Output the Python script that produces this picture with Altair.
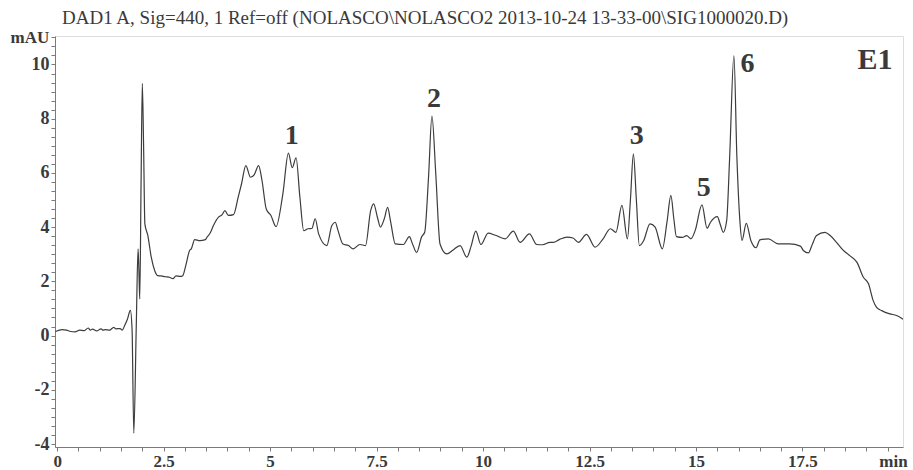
import altair as alt
import pandas as pd

# Retention time (min) and detector signal (mAU)
time_min = [
    -0.04, 0.12, 0.22, 0.32, 0.42, 0.53, 0.63, 0.73, 0.78, 0.83, 0.93, 1.03, 1.08, 1.13,
    1.23, 1.33, 1.38, 1.48, 1.53, 1.58, 1.65, 1.72, 1.76, 1.80, 1.86, 1.90, 1.92, 1.94,
    1.97, 2.00, 2.03, 2.06, 2.13, 2.21, 2.29, 2.36, 2.44, 2.54, 2.64, 2.72, 2.79, 2.89,
    2.95, 3.02, 3.11, 3.15, 3.23, 3.35, 3.48, 3.52, 3.60, 3.67, 3.79, 3.87, 3.94, 4.02,
    4.14, 4.25, 4.33, 4.43, 4.54, 4.63, 4.73, 4.81, 4.91, 5.02, 5.14, 5.30, 5.43, 5.52,
    5.61, 5.70, 5.79, 5.89, 5.98, 6.06, 6.14, 6.33, 6.45, 6.53, 6.59, 6.71, 6.84, 6.95,
    7.11, 7.24, 7.36, 7.43, 7.53, 7.59, 7.68, 7.76, 7.83, 7.94, 8.13, 8.27, 8.34, 8.44,
    8.56, 8.63, 8.72, 8.80, 8.89, 8.99, 9.15, 9.29, 9.46, 9.62, 9.72, 9.83, 9.95, 10.12,
    10.29, 10.52, 10.71, 10.87, 11.09, 11.26, 11.40, 11.57, 11.65, 11.80, 11.97, 12.11,
    12.24, 12.43, 12.63, 12.81, 12.99, 13.12, 13.26, 13.39, 13.46, 13.53, 13.60, 13.67,
    13.77, 13.92, 14.04, 14.21, 14.32, 14.41, 14.48, 14.54, 14.68, 14.78, 14.88, 14.98,
    15.14, 15.26, 15.34, 15.50, 15.57, 15.64, 15.72, 15.79, 15.89, 15.96, 16.03, 16.08,
    16.18, 16.29, 16.41, 16.50, 16.70, 16.93, 17.20, 17.45, 17.52, 17.64, 17.72, 17.83,
    18.03, 18.15, 18.30, 18.46, 18.61, 18.78, 18.93, 19.05, 19.16, 19.24, 19.36, 19.55,
    19.71, 19.86,
]
signal_mau = [
    0.15, 0.22, 0.20, 0.15, 0.14, 0.20, 0.18, 0.28, 0.20, 0.24, 0.17, 0.25, 0.20, 0.22,
    0.20, 0.30, 0.25, 0.26, 0.20, 0.35, 0.60, 0.93, 0.20, -3.60, 0.50, 3.20, 2.40, 1.35,
    5.50, 9.30, 7.00, 4.12, 3.69, 2.89, 2.40, 2.21, 2.20, 2.17, 2.15, 2.10, 2.20, 2.18,
    2.21, 2.58, 3.14, 3.20, 3.54, 3.50, 3.54, 3.63, 3.80, 4.06, 4.37, 4.45, 4.61, 4.43,
    4.46, 5.10, 5.60, 6.27, 5.84, 5.94, 6.27, 5.72, 4.67, 4.43, 4.02, 5.23, 6.73, 6.19,
    6.56, 5.10, 3.87, 3.94, 3.95, 4.31, 3.75, 3.32, 4.06, 4.18, 3.90, 3.38, 3.32, 3.20,
    3.36, 3.32, 4.60, 4.86, 4.30, 4.00, 4.30, 4.73, 4.20, 3.38, 3.36, 3.65, 3.40, 3.07,
    3.65, 3.81, 5.84, 8.10, 5.97, 3.38, 3.01, 3.15, 3.32, 2.89, 3.30, 3.85, 3.36, 3.78,
    3.70, 3.57, 3.85, 3.44, 3.75, 3.36, 3.35, 3.44, 3.44, 3.55, 3.63, 3.60,
    3.44, 3.73, 3.26, 3.55, 3.94, 3.81, 4.80, 3.57, 5.00, 6.70, 5.00, 3.32,
    3.50, 4.12, 4.00, 3.20, 4.20, 5.17, 4.30, 3.65, 3.62, 3.69, 3.57, 3.87,
    4.82, 3.96, 4.18, 4.39, 4.10, 3.81, 4.24, 6.58, 10.33, 6.58, 4.24, 3.51,
    4.14, 3.50, 3.24, 3.53, 3.57, 3.38, 3.38, 3.30, 3.14, 3.05, 3.32, 3.69,
    3.81, 3.69, 3.44, 3.14, 2.95, 2.70, 2.15, 1.91, 1.29, 1.04, 0.92, 0.80,
    0.74, 0.60,
]

peak_labels = ["1", "2", "3", "5", "6"]
peak_t = [5.51, 8.85, 13.61, 15.18, 16.21]
peak_v = [7.37, 8.72, 7.36, 5.46, 10.02]

panel_label = ["E1"]
panel_t = [19.2]
panel_v = [10.16]

title_text = "DAD1 A, Sig=440, 1 Ref=off (NOLASCO\\NOLASCO2 2013-10-24 13-33-00\\SIG1000020.D)"

x_ticks = [i * 0.5 for i in range(0, 40)]
y_ticks = [round(-4 + i / 3, 4) for i in range(0, 46)]

df = pd.DataFrame({"t": time_min, "v": signal_mau})
peaks = pd.DataFrame({"label": peak_labels, "t": peak_t, "v": peak_v})
panel = pd.DataFrame({"label": panel_label, "t": panel_t, "v": panel_v})

FONT = "Liberation Serif"
INK = "#3a3a3a"
GRAY = "#7a7a7a"

xscale = alt.Scale(domain=[-0.05, 19.86], nice=False, zero=False)
yscale = alt.Scale(domain=[-4.11, 11.05], nice=False, zero=False)


def x_axis():
    return alt.Axis(
        values=x_ticks,
        labelExpr="(datum.value % 2.5 == 0) ? '' + datum.value : ''",
        labelOverlap=False,
        labelBound=False,
        labelFlush=False,
        tickSize=4,
        tickWidth=1,
        grid=False,
        domainColor=GRAY,
        tickColor=GRAY,
        labelFont=FONT,
        labelFontWeight="bold",
        labelFontSize=17,
        labelColor=INK,
        labelBaseline="alphabetic",
        labelPadding=15,
        title="min",
        titleFont=FONT,
        titleFontWeight="bold",
        titleFontSize=17,
        titleColor=INK,
        titleX=838,
        titleY=19,
        titleAlign="center",
        titleBaseline="alphabetic",
    )


def y_axis():
    return alt.Axis(
        values=y_ticks,
        labelExpr="(abs(datum.value - round(datum.value / 2) * 2) < 0.01) ? '' + round(datum.value) : ''",
        labelOverlap=False,
        labelBound=False,
        labelFlush=False,
        tickSize=4,
        tickWidth=1,
        grid=False,
        domainColor=GRAY,
        tickColor=GRAY,
        labelFont=FONT,
        labelFontWeight="bold",
        labelFontSize=18,
        labelColor=INK,
        labelPadding=2,
        title="mAU",
        titleFont=FONT,
        titleFontWeight="bold",
        titleFontSize=17,
        titleColor=INK,
        titleAngle=0,
        titleX=-45,
        titleY=6,
        titleAlign="left",
        titleBaseline="alphabetic",
    )


line = alt.Chart(df).mark_line(
    color="#3c3c3c", strokeWidth=1.2, interpolate="monotone", clip=True
).encode(
    x=alt.X("t:Q", scale=xscale, axis=x_axis()),
    y=alt.Y("v:Q", scale=yscale, axis=y_axis()),
)

peak_text = alt.Chart(peaks).mark_text(
    font=FONT, fontWeight="bold", fontSize=28, color=INK, align="center", baseline="middle"
).encode(
    x=alt.X("t:Q", scale=xscale, axis=x_axis()),
    y=alt.Y("v:Q", scale=yscale, axis=y_axis()),
    text="label:N",
)

panel_text = alt.Chart(panel).mark_text(
    font=FONT, fontWeight="bold", fontSize=30, color=INK, align="center", baseline="middle"
).encode(
    x=alt.X("t:Q", scale=xscale, axis=x_axis()),
    y=alt.Y("v:Q", scale=yscale, axis=y_axis()),
    text="label:N",
)

chart = alt.layer(line, peak_text, panel_text).properties(
    width=848,
    height=411,
    title=alt.TitleParams(
        text=title_text,
        anchor="start",
        frame="group",
        font=FONT,
        fontSize=19,
        fontWeight="normal",
        color=INK,
        dx=7,
        offset=0,
    ),
    autosize=alt.AutoSizeParams(type="none"),
    padding={"left": 55, "top": 36, "right": 10, "bottom": 23},
).configure_view(
    stroke=GRAY, strokeWidth=1.5
).configure(background="white")

chart.save("out.html", embed_options={"renderer": "svg", "actions": False})
